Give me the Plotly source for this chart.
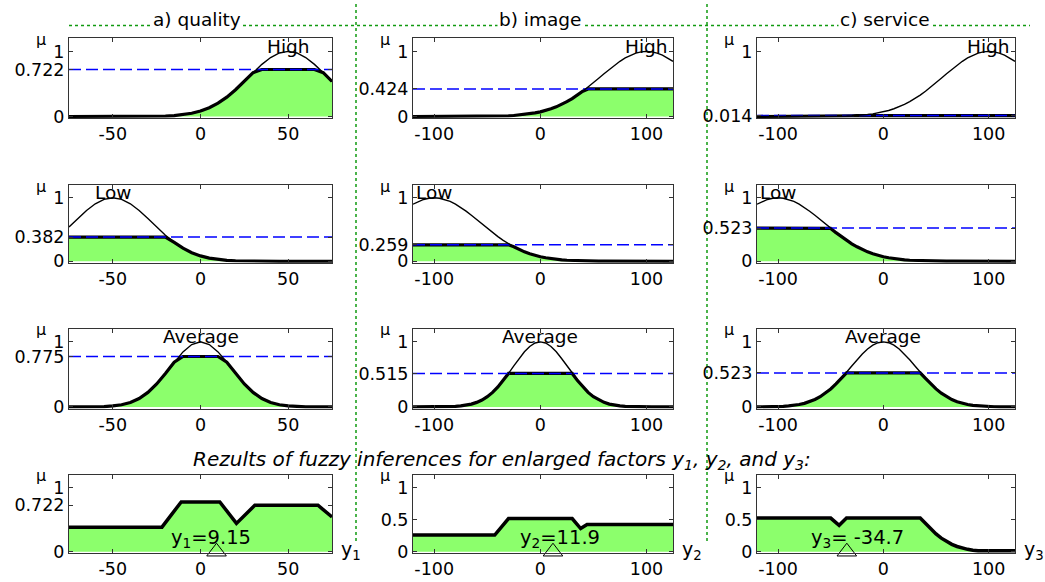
import plotly.graph_objects as go
import numpy as np

# ---------------- data ----------------
# sampling grids (universe of discourse) for the three factors
x_quality = list(range(-75, 80, 5))          # a) quality
x_wide = list(range(-120, 130, 5))           # b) image, c) service

# membership functions
quality_high = [0, 0, 0, 0, 0, 0, 0.0001, 0.0003, 0.0008, 0.002, 0.004, 0.008, 0.015, 0.028,
                0.050, 0.085, 0.135, 0.206, 0.298, 0.411, 0.539, 0.674, 0.801, 0.906, 0.976,
                1.0, 0.976, 0.906, 0.801, 0.674, 0.539]
quality_low = [0.539, 0.674, 0.801, 0.906, 0.976, 1.0, 0.976, 0.906, 0.801, 0.674, 0.539,
               0.411, 0.298, 0.206, 0.135, 0.085, 0.050, 0.028, 0.015, 0.008, 0.004, 0.002,
               0.001, 0, 0, 0, 0, 0, 0, 0, 0]
quality_avg = [0, 0, 0.001, 0.0025, 0.006, 0.016, 0.034, 0.069, 0.130, 0.223, 0.353, 0.513,
               0.687, 0.846, 0.959, 1.0, 0.959, 0.846, 0.687, 0.513, 0.353, 0.223, 0.130,
               0.069, 0.034, 0.016, 0.006, 0.0025, 0.001, 0, 0]

image_high = [0, 0, 0, 0, 0, 0, 0, 0, 0, 0, 0, 0.001, 0.001, 0.002, 0.003, 0.004, 0.006, 0.008,
              0.012, 0.016, 0.023, 0.031, 0.041, 0.055, 0.072, 0.093, 0.119, 0.149, 0.186,
              0.228, 0.275, 0.329, 0.388, 0.451, 0.518, 0.587, 0.656, 0.724, 0.789, 0.848,
              0.900, 0.943, 0.974, 0.993, 1.0, 0.993, 0.974, 0.943, 0.900, 0.848]
image_low = [0.900, 0.943, 0.974, 0.993, 1.0, 0.993, 0.974, 0.943, 0.900, 0.848, 0.789, 0.724,
             0.656, 0.587, 0.518, 0.451, 0.388, 0.329, 0.275, 0.228, 0.186, 0.149, 0.119,
             0.093, 0.072, 0.055, 0.041, 0.031, 0.023, 0.016, 0.012, 0.008, 0.006, 0.004,
             0.003, 0.002, 0.001, 0.001, 0, 0, 0, 0, 0, 0, 0, 0, 0, 0, 0, 0]
image_avg = [0, 0, 0, 0, 0.001, 0.001, 0.003, 0.005, 0.009, 0.016, 0.027, 0.044, 0.070, 0.107,
             0.158, 0.224, 0.307, 0.405, 0.515, 0.631, 0.744, 0.847, 0.929, 0.982, 1.0,
             0.982, 0.929, 0.847, 0.744, 0.631, 0.515, 0.405, 0.307, 0.224, 0.158, 0.107,
             0.070, 0.044, 0.027, 0.016, 0.009, 0.005, 0.003, 0.001, 0.001, 0, 0, 0, 0, 0]

service_high = image_high
service_low = image_low
service_avg = [0.001, 0.001, 0.002, 0.003, 0.006, 0.010, 0.016, 0.024, 0.037, 0.055, 0.081,
               0.114, 0.157, 0.211, 0.277, 0.353, 0.439, 0.533, 0.630, 0.725, 0.814, 0.891,
               0.950, 0.987, 1.0, 0.987, 0.950, 0.891, 0.814, 0.725, 0.630, 0.533, 0.439,
               0.353, 0.277, 0.211, 0.157, 0.114, 0.081, 0.055, 0.037, 0.024, 0.016, 0.010,
               0.006, 0.003, 0.002, 0.001, 0.001, 0]

# firing (clipping) levels
levels_quality = [0.722, 0.382, 0.775]   # High, Low, Average
levels_image = [0.424, 0.259, 0.515]
levels_service = [0.014, 0.523, 0.523]

mf_names = ["High", "Low", "Average"]
mf_centers_quality = [50, -50, 0]
mf_centers_wide = [100, -100, 0]

# aggregated outputs (bottom row)
agg_x1 = [-75, -22, -11, 11, 20.5, 31, 67, 75]
agg_mu1 = [0.382, 0.382, 0.775, 0.775, 0.44, 0.722, 0.722, 0.54]
agg_x2 = [-120, -43, -30, 30, 38, 44, 125]
agg_mu2 = [0.259, 0.259, 0.515, 0.515, 0.36, 0.424, 0.424]
agg_x3 = [-120, -50, -42, -35, 35, 40, 45, 50, 55, 60, 65, 70, 75, 80, 85, 90, 125]
agg_mu3 = [0.523, 0.523, 0.41, 0.523, 0.523, 0.439, 0.353, 0.277, 0.211, 0.157, 0.114,
           0.081, 0.055, 0.037, 0.024, 0.014, 0.014]
results = [9.15, 11.9, -34.7]
result_names = ["y<sub>1</sub>", "y<sub>2</sub>", "y<sub>3</sub>"]

col_titles = ["a) quality", "b) image", "c) service"]
xticks_quality = [-50, 0, 50]
xticks_wide = [-100, 0, 100]
agg_yticks = [[0, 0.722, 1], [0, 0.5, 1], [0, 0.5, 1]]

# ---------------- layout geometry ----------------
W, H = 1045, 582
col_px = [(69, 332), (413, 673), (757, 1015)]
row_px = [(39, 120), (188, 267), (334, 415), (482, 562)]
xranges = [[-75, 75], [-120, 125], [-120, 125]]
yrange = [-0.025, 1.2]

GREEN = "#8CFF6C"
FONT = "DejaVu Sans"

fig = go.Figure()

columns = [
    (x_quality, [quality_high, quality_low, quality_avg], levels_quality, mf_centers_quality, xticks_quality),
    (x_wide, [image_high, image_low, image_avg], levels_image, mf_centers_wide, xticks_wide),
    (x_wide, [service_high, service_low, service_avg], levels_service, mf_centers_wide, xticks_wide),
]
aggs = [(agg_x1, agg_mu1), (agg_x2, agg_mu2), (agg_x3, agg_mu3)]

annotations = []
shapes = []

def axis_names(idx):
    return ("x" if idx == 1 else f"x{idx}", "y" if idx == 1 else f"y{idx}")

idx = 0
for r in range(4):
    for c in range(3):
        idx += 1
        xa, ya = axis_names(idx)
        xs, mfs, levels, centers, xt = columns[c]
        if r < 3:
            mf = np.array(mfs[r])
            lev = levels[r]
            clipped = np.minimum(mf, lev)
            fig.add_trace(go.Scatter(x=xs, y=clipped, mode="lines", fill="tozeroy",
                                     fillcolor=GREEN, line=dict(width=0, color=GREEN),
                                     xaxis=xa, yaxis=ya, hoverinfo="skip"))
            fig.add_trace(go.Scatter(x=xs, y=clipped, mode="lines",
                                     line=dict(width=3.2, color="black"),
                                     xaxis=xa, yaxis=ya, hoverinfo="skip"))
            fig.add_trace(go.Scatter(x=xranges[c], y=[lev, lev], mode="lines",
                                     line=dict(width=1.5, color="#0000FF", dash="12px,5px"),
                                     xaxis=xa, yaxis=ya, hoverinfo="skip"))
            fig.add_trace(go.Scatter(x=xs, y=mf, mode="lines", line=dict(width=1.4, color="black"),
                                     xaxis=xa, yaxis=ya, hoverinfo="skip"))
            annotations.append(dict(x=centers[r], y=1.08, xref=xa, yref=ya, text=mf_names[r],
                                    showarrow=False, font=dict(family=FONT, size=18.5, color="black"),
                                    xanchor="center", yanchor="middle"))
            if lev < 0.05:
                yt = [lev, 1]
            else:
                yt = [0, lev, 1]
        else:
            ax_, amu = aggs[c]
            fig.add_trace(go.Scatter(x=ax_, y=amu, mode="lines", fill="tozeroy",
                                     fillcolor=GREEN, line=dict(width=3.5, color="black"),
                                     xaxis=xa, yaxis=ya, hoverinfo="skip"))
            fig.add_trace(go.Scatter(x=[results[c]], y=[0], mode="markers",
                                     marker=dict(symbol="triangle-up-open", size=17,
                                                 color="black", line=dict(width=1)),
                                     cliponaxis=False, xaxis=xa, yaxis=ya, hoverinfo="skip"))
            shift = [-6, 7, 11][c]
            val = f"{results[c]:g}"
            txt = f"{result_names[c]}={val}" if c < 2 else f"{result_names[c]}= {val}"
            annotations.append(dict(x=results[c], y=0.2, xref=xa, yref=ya, text=txt,
                                    xshift=shift, showarrow=False,
                                    font=dict(family=FONT, size=19.5, color="black"),
                                    xanchor="center", yanchor="middle"))
            yt = agg_yticks[c]
            # axis variable label on the right
            annotations.append(dict(x=(col_px[c][1] + 7) / W, y=1 - 559 / H, xref="paper", yref="paper",
                                    text=result_names[c], showarrow=False,
                                    font=dict(family=FONT, size=19, color="black"),
                                    xanchor="left", yanchor="middle"))
        x0, x1 = col_px[c]
        y0, y1 = row_px[r]
        common = dict(showline=True, linecolor="#333333", linewidth=1, mirror="ticks",
                      ticks="inside", ticklen=4, tickcolor="#333333", showgrid=False,
                      zeroline=False, tickfont=dict(family=FONT, size=17.5, color="black"))
        fig.layout[("xaxis" if idx == 1 else f"xaxis{idx}")] = dict(
            domain=[x0 / W, x1 / W], range=xranges[c], anchor=ya,
            tickvals=xt, ticktext=[str(v) for v in xt], **common)
        fig.layout[("yaxis" if idx == 1 else f"yaxis{idx}")] = dict(
            domain=[1 - y1 / H, 1 - y0 / H], range=yrange, anchor=xa,
            tickvals=yt, ticktext=[f"{v:g}" for v in yt], **common)
        # mu label
        annotations.append(dict(x=(x0 - 28) / W, y=1 - (y0 + 1) / H, xref="paper", yref="paper",
                                text="μ", showarrow=False,
                                font=dict(family=FONT, size=16, color="black"),
                                xanchor="center", yanchor="middle"))

# column titles
for c, t in enumerate(col_titles):
    cx = [197, 540, 885][c]
    annotations.append(dict(x=cx / W, y=1 - 20 / H, xref="paper", yref="paper", text=t,
                            showarrow=False, bgcolor="white",
                            font=dict(family=FONT, size=18.5, color="black"),
                            xanchor="center", yanchor="middle"))

annotations.append(dict(x=191 / W, y=1 - 467 / H, xref="paper", yref="paper",
                        text="<i>Rezults of fuzzy inferences for enlarged factors y<sub>1</sub>, "
                             "y<sub>2</sub>, and y<sub>3</sub>:</i>",
                        showarrow=False, font=dict(family=FONT, size=20, color="black"),
                        xanchor="left", yanchor="middle"))

dot = dict(color="#109A10", width=1.5, dash="dot")
shapes.append(dict(type="line", xref="paper", yref="paper", x0=69 / W, x1=1030 / W,
                   y0=1 - 26 / H, y1=1 - 26 / H, line=dot, layer="below"))
for vx in [356, 707]:
    shapes.append(dict(type="line", xref="paper", yref="paper", x0=vx / W, x1=vx / W,
                       y0=1 - 4 / H, y1=1 - 550 / H, line=dot, layer="below"))

fig.update_layout(width=W, height=H, margin=dict(l=0, r=0, t=0, b=0),
                  paper_bgcolor="white", plot_bgcolor="white", showlegend=False,
                  annotations=annotations, shapes=shapes)

fig.write_html("out.html")
